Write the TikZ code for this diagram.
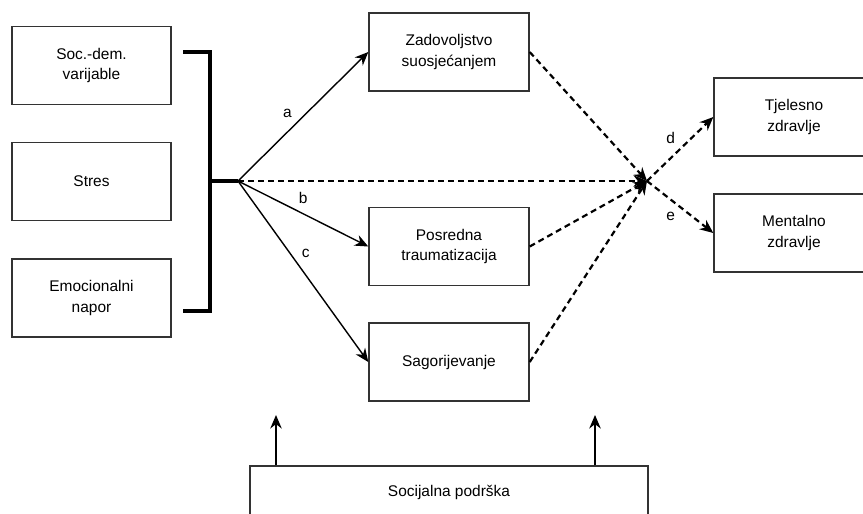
\documentclass[tikz,border=0pt]{standalone}
\usepackage{fontspec}
\setmainfont{Liberation Sans}
\usetikzlibrary{arrows.meta}
\definecolor{boxgrey}{HTML}{333333}

\begin{document}
\begin{tikzpicture}[
  >={Stealth[length=2.7mm,width=2.3mm]},
  font=\fontsize{8.8}{11.4}\selectfont,
  box/.style={draw=boxgrey, line width=0.8pt, minimum width=3.2cm,
    minimum height=1.56cm, align=center, inner sep=2pt},
  flow/.style={->, line width=0.8pt},
  dflow/.style={->, line width=1.25pt, dash pattern=on 3.4pt off 2.3pt},
  bracket/.style={line width=1.9pt}
]
\useasboundingbox (0,0) rectangle (17.26,-10.28);
% predictors
\node[box,minimum width=3.18cm] (socdem) at (1.83,-1.31) {Soc.-dem.\\varijable};
\node[box,minimum width=3.18cm] (stres) at (1.83,-3.63) {Stres};
\node[box,minimum width=3.18cm] (napor) at (1.83,-5.96) {Emocionalni\\napor};
% mediators
\node[box] (zadov) at (8.98,-1.04) {Zadovoljstvo\\suosjećanjem};
\node[box] (posred) at (8.98,-4.93) {Posredna\\traumatizacija};
\node[box] (sagor) at (8.98,-7.24) {Sagorijevanje};
% outcomes
\node[box] (tjel) at (15.88,-2.34) {Tjelesno\\zdravlje};
\node[box] (ment) at (15.88,-4.66) {Mentalno\\zdravlje};
\node[box,minimum width=7.96cm,minimum height=1.04cm] (podrska) at (8.98,-9.84)
  {Socijalna podrška};
% bracket joining the predictors
\coordinate (brtop) at (3.66,-1.04);
\coordinate (brbot) at (3.66,-6.22);
\coordinate (spine) at (4.2,-3.62);
\coordinate (hub) at (4.76,-3.62);
\coordinate (meet) at (12.94,-3.62);
\draw[bracket] (brtop) -| ([xshift=0.54cm]brbot) -- (brbot);
\draw[bracket] (spine) -- (hub);
\draw[flow] (hub) -- node[pos=0.45,above left=-1pt] {a} (zadov.west);
\draw[flow] (hub) -- node[pos=0.5,above=2pt] {b} (posred.west);
\draw[flow] (hub) -- node[pos=0.4,right=3pt] {c} (sagor.west);
\draw[dflow] (hub) -- (meet);
\draw[dflow] (zadov.east) -- (meet);
\draw[dflow] (posred.east) -- (meet);
\draw[dflow] (sagor.east) -- (meet);
\draw[dflow] (meet) -- node[pos=0.5,above left=-1pt] {d} (tjel.west);
\draw[dflow] (meet) -- node[pos=0.5,below left=-1pt] {e} (ment.west);
% moderator
\coordinate (upleft) at (5.52,-8.30);
\coordinate (upright) at (11.9,-8.30);
\draw[flow] (upleft |- podrska.north) -- (upleft);
\draw[flow] (upright |- podrska.north) -- (upright);
\end{tikzpicture}
\end{document}
